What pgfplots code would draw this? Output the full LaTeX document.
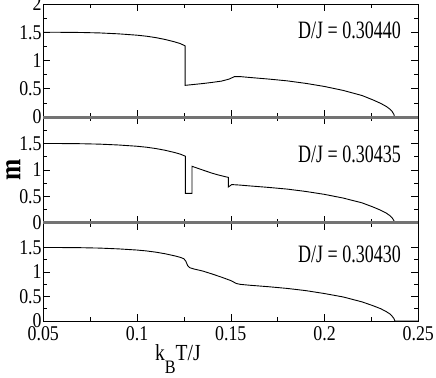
\documentclass[border=0pt]{standalone}
\usepackage{fontspec}
\setmainfont{Liberation Serif}[FakeStretch=0.85]
\newfontfamily\lblfont{Liberation Serif}[FakeStretch=0.72]
\usepackage{pgfplots}
\pgfplotsset{compat=1.18}

\pgfplotsset{
  panel/.style={
    scale only axis, width=375pt,
    xmin=0.05, xmax=0.25, ymin=0, ymax=2,
    clip=false,
    axis line style={black, line width=0.8pt},
    tick style={black, line width=0.6pt},
    tick align=inside,
    xtick={0.05,0.1,0.15,0.2,0.25},
    minor x tick num=1,
    minor y tick num=1,
    major tick length=7pt, minor tick length=4pt,
    xticklabels={},
    ticklabel style={font=\fontsize{21}{21}\selectfont},
    yticklabel style={inner sep=1.5pt},
  },
  mcurve/.style={black, line width=0.9pt},
}

\newcommand{\djlabel}[2]{\node[anchor=east, inner sep=0pt, font=\lblfont\fontsize{25}{25}\selectfont] at (axis cs:0.2408,#1) {D/J = #2};}

\begin{document}
\begin{tikzpicture}
\path[use as bounding box] (-43.3pt,-56.3pt) rectangle (392.7pt,321pt);

% bottom panel, D/J = 0.30430
\begin{axis}[panel, at={(0pt,0pt)}, anchor=south west, height=98pt,
  ytick={0,0.5,1,1.5}, yticklabels={0,0.5,1,1.5},
  xticklabels={0.05,0.1,0.15,0.2,0.25},
  xticklabel style={yshift=-2pt},
  xlabel={k\raisebox{-13pt}{\fontsize{19}{19}\selectfont B}T/J},
  xlabel style={font=\fontsize{23}{23}\selectfont, at={(axis description cs:0.359,-0.40)}, anchor=base},
]
\addplot[mcurve] coordinates {
(0.05,1.5) (0.06,1.499) (0.07,1.496) (0.08,1.488) (0.09,1.472) (0.1,1.448)
(0.105,1.43) (0.11,1.405) (0.115,1.372) (0.12,1.33) (0.123,1.30) (0.125,1.27)
(0.126,1.22) (0.127,1.13) (0.128,1.09) (0.13,1.065) (0.135,1.02) (0.14,0.96)
(0.145,0.895) (0.15,0.825) (0.153,0.765) (0.155,0.748) (0.16,0.73) (0.17,0.70)
(0.18,0.665) (0.19,0.62) (0.2,0.56) (0.21,0.49) (0.22,0.39) (0.226,0.31)
(0.23,0.25) (0.233,0.19) (0.235,0.14) (0.236,0.10) (0.237,0.05) (0.2375,0)
(0.25,0)};
\djlabel{1.37}{0.30430}
\end{axis}

% middle panel, D/J = 0.30435
\begin{axis}[panel, at={(0pt,98pt)}, anchor=south west, height=106pt,
  ytick={0,0.5,1,1.5}, yticklabels={0,0.5,1,1.5},
  minor ytick={0.25,0.75,1.25,1.75},
  ylabel={m},
  ylabel style={font=\bfseries\fontsize{30}{30}\selectfont, at={(axis description cs:-0.08,0.5)}, anchor=center},
]
\addplot[mcurve] coordinates {
(0.05,1.5) (0.06,1.499) (0.07,1.496) (0.08,1.488) (0.09,1.472) (0.1,1.448)
(0.105,1.43) (0.11,1.405) (0.115,1.372) (0.12,1.33) (0.123,1.30) (0.1258,1.26)
(0.1258,0.56) (0.1293,0.56) (0.1293,1.07) (0.135,1.0) (0.14,0.94) (0.144,0.90)
(0.1487,0.86) (0.1487,0.68) (0.1505,0.725) (0.155,0.715) (0.16,0.70) (0.17,0.672)
(0.18,0.64) (0.19,0.595) (0.2,0.54) (0.21,0.47) (0.22,0.38) (0.226,0.30)
(0.23,0.24) (0.233,0.185) (0.235,0.135) (0.236,0.10) (0.237,0.045) (0.2374,0)};
\djlabel{1.30}{0.30435}
\end{axis}

% top panel, D/J = 0.30440
\begin{axis}[panel, at={(0pt,204pt)}, anchor=south west, height=113pt,
  ytick={0,0.5,1,1.5,2}, yticklabels={0,0.5,1,1.5,2},
]
\addplot[mcurve] coordinates {
(0.05,1.5) (0.06,1.499) (0.07,1.496) (0.08,1.488) (0.09,1.472) (0.1,1.448)
(0.105,1.43) (0.11,1.405) (0.115,1.372) (0.12,1.33) (0.123,1.30) (0.1256,1.26)
(0.1256,0.56) (0.13,0.575) (0.135,0.592) (0.14,0.612) (0.145,0.635) (0.149,0.67)
(0.152,0.715) (0.155,0.715) (0.16,0.70) (0.17,0.672) (0.18,0.64) (0.19,0.595)
(0.2,0.54) (0.21,0.47) (0.22,0.38) (0.226,0.30) (0.23,0.24) (0.233,0.185)
(0.235,0.135) (0.236,0.10) (0.237,0.045) (0.2373,0)};
\djlabel{1.54}{0.30440}
\end{axis}

% m = 0 lines of the upper two panels, over all frames
\begin{axis}[panel, at={(0pt,98pt)}, anchor=south west, height=219pt,
  hide axis, ymin=0, ymax=1]
\addplot[black!55, line width=3pt] coordinates {(0.05,0) (0.25,0)};
\addplot[black!55, line width=3pt] coordinates {(0.05,0.4840) (0.25,0.4840)};
\end{axis}
\end{tikzpicture}
\end{document}
